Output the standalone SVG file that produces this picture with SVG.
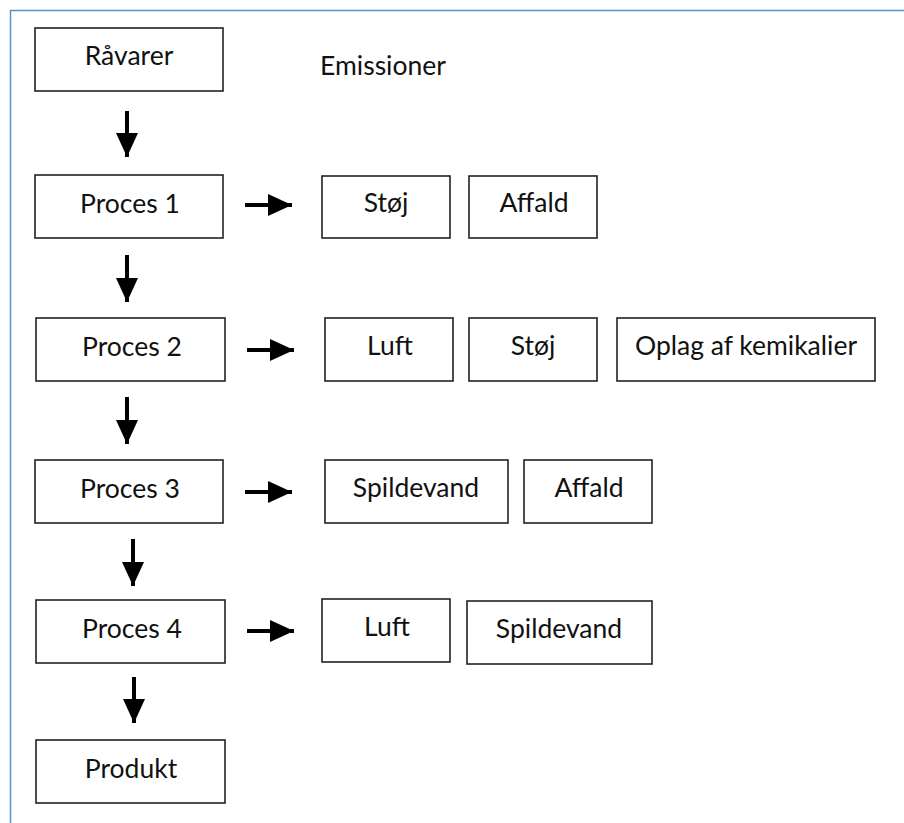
<svg xmlns="http://www.w3.org/2000/svg" width="904" height="823" viewBox="0 0 904 823">
<style>
.box{fill:#fff;stroke:#222;stroke-width:1.6}
.t{font-family:Lato,"Open Sans",sans-serif;font-size:26.5px;fill:#111;text-anchor:middle}
.ar{stroke:#000;stroke-width:4;fill:none}
</style>
<defs>
<marker id="ah" markerUnits="userSpaceOnUse" markerWidth="24" markerHeight="24" viewBox="0 0 24 24" refX="24" refY="12" orient="auto">
<path d="M0,1 L24,12 L0,23 Z" fill="#000"/>
</marker>
</defs>
<rect x="0" y="0" width="904" height="823" fill="#fff"/>
<path d="M10.5,823 V10.5 H904" fill="none" stroke="#5b8fd0" stroke-width="1.5"/>
<text class="t" x="383" y="75">Emissioner</text>
<g id="n-ravarer"><rect class="box" x="35" y="28" width="188" height="63"/><text class="t" x="129" y="65">Råvarer</text></g>
<g id="n-p1"><rect class="box" x="35" y="175" width="188" height="63"/><text class="t" x="130" y="213">Proces 1</text></g>
<g id="n-p2"><rect class="box" x="36" y="318" width="189" height="63"/><text class="t" x="132" y="356">Proces 2</text></g>
<g id="n-p3"><rect class="box" x="35" y="460" width="188" height="63"/><text class="t" x="130" y="498">Proces 3</text></g>
<g id="n-p4"><rect class="box" x="36" y="600" width="189" height="63"/><text class="t" x="132" y="638">Proces 4</text></g>
<g id="n-produkt"><rect class="box" x="36" y="740" width="189" height="63"/><text class="t" x="131" y="778">Produkt</text></g>
<g id="e1a"><rect class="box" x="322" y="176" width="128" height="62"/><text class="t" x="386" y="212">Støj</text></g>
<g id="e1b"><rect class="box" x="469" y="176" width="128" height="62"/><text class="t" x="534" y="212">Affald</text></g>
<g id="e2a"><rect class="box" x="325" y="318" width="128" height="63"/><text class="t" x="390" y="355">Luft</text></g>
<g id="e2b"><rect class="box" x="469" y="318" width="128" height="63"/><text class="t" x="533" y="355">Støj</text></g>
<g id="e2c"><rect class="box" x="617" y="318" width="258" height="63"/><text class="t" x="746" y="355">Oplag af kemikalier</text></g>
<g id="e3a"><rect class="box" x="325" y="460" width="183" height="63"/><text class="t" x="416" y="497">Spildevand</text></g>
<g id="e3b"><rect class="box" x="524" y="460" width="128" height="63"/><text class="t" x="589" y="497">Affald</text></g>
<g id="e4a"><rect class="box" x="322" y="599" width="128" height="63"/><text class="t" x="387" y="636">Luft</text></g>
<g id="e4b"><rect class="box" x="467" y="601" width="185" height="63"/><text class="t" x="559" y="638">Spildevand</text></g>
<g id="connectors">
<line class="ar" x1="127" y1="111" x2="127" y2="157" marker-end="url(#ah)"/>
<line class="ar" x1="127" y1="255" x2="127" y2="302" marker-end="url(#ah)"/>
<line class="ar" x1="127" y1="397" x2="127" y2="444" marker-end="url(#ah)"/>
<line class="ar" x1="133" y1="539" x2="133" y2="586" marker-end="url(#ah)"/>
<line class="ar" x1="134" y1="677" x2="134" y2="723" marker-end="url(#ah)"/>
<line class="ar" x1="245" y1="205" x2="292" y2="205" marker-end="url(#ah)"/>
<line class="ar" x1="247" y1="350" x2="294" y2="350" marker-end="url(#ah)"/>
<line class="ar" x1="245" y1="492" x2="292" y2="492" marker-end="url(#ah)"/>
<line class="ar" x1="247" y1="631" x2="294" y2="631" marker-end="url(#ah)"/>
</g>
</svg>
